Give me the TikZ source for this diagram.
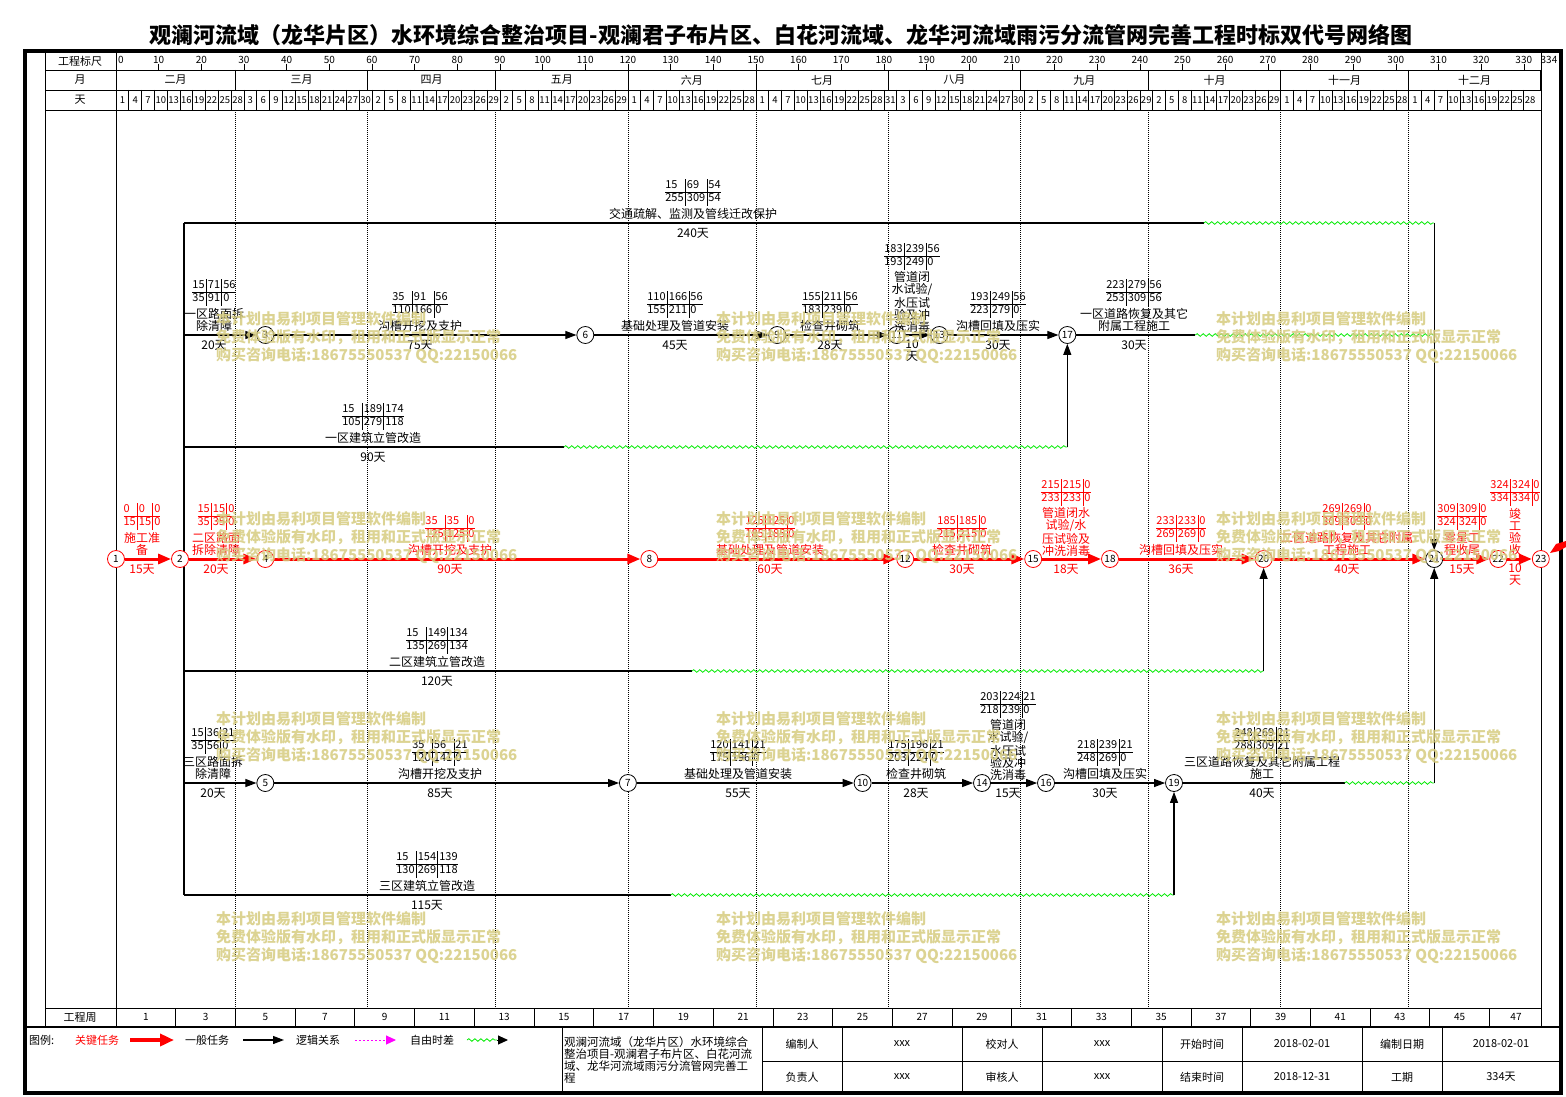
\documentclass[tikz,border=0pt]{standalone}
\usepackage{fontspec}
\setmainfont{Noto Sans CJK SC}
\usetikzlibrary{arrows.meta,decorations.pathmorphing}
\pgfdeclarelayer{bg}
\pgfsetlayers{bg,main}
\definecolor{wmk}{RGB}{214,204,128}
\definecolor{fgreen}{RGB}{0,235,0}
\definecolor{mag}{RGB}{255,0,255}
\setlength\tabcolsep{1.6pt}
\setlength\arrayrulewidth{0.6pt}
\newcommand\tpar[6]{\begin{tabular}{@{}l|l|l@{}}#1&#2&#3\\\hline #4&#5&#6\end{tabular}}
\tikzset{
 evt/.style={circle,draw=black,fill=white,minimum size=17pt,inner sep=0pt,line width=0.8pt,font=\fontsize{10}{10}\selectfont},
 cevt/.style={evt,draw=red},
 solidln/.style={line width=1.1pt},
 norm/.style={line width=1.1pt,-{Triangle[length=11pt,width=8pt]}},
 crit/.style={draw=red,line width=3pt,-{Triangle[length=13pt,width=10pt]}},
 flt/.style={draw=fgreen,line width=0.8pt,decorate,decoration={snake,amplitude=1.3pt,segment length=6pt}},
 lbl/.style={inner sep=0pt,align=center,font=\fontsize{12}{12}\selectfont},
 clbl/.style={lbl,text=red},
 tbl/.style={inner sep=0pt,font=\fontsize{11}{13}\selectfont},
 ctbl/.style={tbl,text=red},
 hdr/.style={inner sep=0pt,font=\fontsize{11}{12}\selectfont},
 dayl/.style={inner sep=0pt,font=\fontsize{9.5}{10}\selectfont},
 tkl/.style={inner sep=0pt,font=\fontsize{10}{10}\selectfont},
 wmark/.style={inner sep=0pt,align=left,text=wmk,text opacity=0.85,font=\bfseries\fontsize{15}{18}\selectfont},
}
\begin{document}
\begin{tikzpicture}[x=1pt,y=-1pt]
\useasboundingbox (0,0) rectangle (1566,1097);
\node[inner sep=0pt,font=\bfseries\fontsize{22}{24}\selectfont] (title) at (781,35) {观澜河流域（龙华片区）水环境综合整治项目-观澜君子布片区、白花河流域、龙华河流域雨污分流管网完善工程时标双代号网络图};

% ---------- frame and grid ----------
\begin{pgfonlayer}{bg}
\fill[white] (0,0) rectangle (1566,1097);
\draw[line width=0.8pt] (45,51) -- (45,1027);
\foreach \yy in {70,90,110,1008} \draw[line width=0.8pt] (45,\yy) -- (1541,\yy);
\draw[line width=0.8pt] (116,51) -- (116,1027);
\draw[line width=0.8pt] (1541,51) -- (1541,1027);
\foreach \a/\b/\m [count=\i] in {0/28/二月,28/59/三月,59/89/四月,89/120/五月,120/150/六月,150/181/七月,181/212/八月,212/242/九月,242/273/十月,273/303/十一月,303/334/十二月}{
  \pgfmathsetmacro\xa{116+4.266*\a}
  \pgfmathsetmacro\xb{116+4.266*\b}
  \node[hdr] (mon\i) at ({(\xa+\xb)/2},80) {\m};
  \draw[line width=0.8pt] (\xb,70) -- (\xb,90);
}
\foreach \b in {28,59,89,120,150,181,212,242,273,303}{
  \pgfmathsetmacro\xb{116+4.266*\b}
  \draw[line width=0.6pt,dash pattern=on 1pt off 1pt] (\xb,110) -- (\xb,1008);
}
\foreach \lab [count=\c from 0] in {1,4,7,10,13,16,19,22,25,28,3,6,9,12,15,18,21,24,27,30,2,5,8,11,14,17,20,23,26,29,2,5,8,11,14,17,20,23,26,29,1,4,7,10,13,16,19,22,25,28,1,4,7,10,13,16,19,22,25,28,31,3,6,9,12,15,18,21,24,27,30,2,5,8,11,14,17,20,23,26,29,2,5,8,11,14,17,20,23,26,29,1,4,7,10,13,16,19,22,25,28,1,4,7,10,13,16,19,22,25,28}{
  \pgfmathsetmacro\xl{116+12.798*\c}
  \draw[line width=0.6pt] (\xl,90) -- (\xl,110);
  \node[dayl] (dy\c) at (\xl+6.4,100) {\lab};
}
\foreach \d in {10,20,...,330}{
  \pgfmathsetmacro\xt{116+4.266*\d}
  \draw[line width=0.6pt] (\xt,64) -- (\xt,70);
  \node[tkl] (tk\d) at (\xt,59.5) {\d};
}
\node[tkl] (tk0) at (121,59.5) {0};
\node[tkl] (tk334) at (1549,59.5) {334};
\foreach \k in {0,...,23}{
  \pgfmathsetmacro\xw{116+59.72*\k}
  \pgfmathsetmacro\xc{min(\xw+29.86,1516)}
  \pgfmathtruncatemacro\wn{2*\k+1}
  \draw[line width=0.8pt] (\xw,1008) -- (\xw,1027);
  \node[tkl] (wk\k) at (\xc,1017) {\wn};
}
\draw[line width=2pt] (25,1027) -- (1561,1027);
\draw[line width=0.8pt] (562,1027) -- (562,1093);
\draw[line width=0.8pt] (762,1061) -- (1561,1061);
\foreach \xv in {762,842,962,1042,1162,1242,1362,1442} \draw[line width=0.8pt] (\xv,1027) -- (\xv,1093);
\draw[line width=4pt] (25,51) rectangle (1561,1093);
\end{pgfonlayer}

\node[hdr] (h1) at (80,61) {工程标尺};
\node[hdr] (h2) at (80,80) {月};
\node[hdr] (h3) at (80,100) {天};
\node[hdr] (h4) at (80,1017) {工程周};

% ---------- events ----------
\node[cevt] (n1) at (116,559) {1};
\node[cevt] (n2) at (180,559) {2};
\node[evt]  (n3) at (265.3,335) {3};
\node[cevt] (n4) at (265.3,559) {4};
\node[evt]  (n5) at (265.3,783) {5};
\node[evt]  (n6) at (585.3,335) {6};
\node[evt]  (n7) at (627.9,783) {7};
\node[cevt] (n8) at (649.3,559) {8};
\node[evt]  (n9) at (777.2,335) {9};
\node[evt]  (n10) at (862.6,783) {10};
\node[evt]  (n11) at (896.7,335) {11};
\node[cevt] (n12) at (905.2,559) {12};
\node[evt]  (n13) at (939.3,335) {13};
\node[evt]  (n14) at (982,783) {14};
\node[cevt] (n15) at (1033.2,559) {15};
\node[evt]  (n16) at (1046,783) {16};
\node[evt]  (n17) at (1067.3,335) {17};
\node[cevt] (n18) at (1110,559) {18};
\node[evt]  (n19) at (1174,783) {19};
\node[cevt] (n20) at (1263.6,559) {20};
\node[evt]  (n21) at (1434.2,559) {21};
\node[cevt] (n22) at (1498.2,559) {22};
\node[cevt] (n23) at (1540.8,559) {23};

% ---------- coordinates ----------
\coordinate (b223) at (184,223);
\coordinate (b335) at (184,335);
\coordinate (b447) at (184,447);
\coordinate (b671) at (184,671);
\coordinate (b783) at (184,783);
\coordinate (b895) at (184,895);
\coordinate (e223) at (1203.8,223);
\coordinate (w223) at (1434.2,223);
\coordinate (e335) at (1195.3,335);
\coordinate (w335) at (1434.2,335);
\coordinate (e447) at (563.9,447);
\coordinate (w447) at (1067.3,447);
\coordinate (e671) at (691.9,671);
\coordinate (w671) at (1263.6,671);
\coordinate (e783) at (1344.6,783);
\coordinate (w783) at (1434.2,783);
\coordinate (e895) at (670.6,895);
\coordinate (w895) at (1174,895);

\begin{pgfonlayer}{bg}
\draw[solidln] (b223) -- (b895);
\end{pgfonlayer}

% top row
\draw[solidln] (b223) -- (e223);
\draw[flt] (e223) -- (w223);
\draw[norm] (w223) -- (n21);
% upper row
\draw[norm] (b335) -- (n3);
\draw[norm] (n3) -- (n6);
\draw[norm] (n6) -- (n9);
\draw[norm] (n9) -- (n11);
\draw[norm] (n11) -- (n13);
\draw[norm] (n13) -- (n17);
\draw[solidln] (n17) -- (e335);
\draw[flt] (e335) -- (w335);
% row 447
\draw[solidln] (b447) -- (e447);
\draw[flt] (e447) -- (w447);
\draw[norm] (w447) -- (n17);
% critical row
\draw[crit] (n1) -- (n2);
\draw[crit] (n2) -- (n4);
\draw[crit] (n4) -- (n8);
\draw[crit] (n8) -- (n12);
\draw[crit] (n12) -- (n15);
\draw[crit] (n15) -- (n18);
\draw[crit] (n18) -- (n20);
\draw[crit] (n20) -- (n21);
\draw[crit] (n21) -- (n22);
\draw[crit] (n22) -- (n23);
% row 671
\draw[solidln] (b671) -- (e671);
\draw[flt] (e671) -- (w671);
\draw[norm] (w671) -- (n20);
% lower row
\draw[norm] (b783) -- (n5);
\draw[norm] (n5) -- (n7);
\draw[norm] (n7) -- (n10);
\draw[norm] (n10) -- (n14);
\draw[norm] (n14) -- (n16);
\draw[norm] (n16) -- (n19);
\draw[solidln] (n19) -- (e783);
\draw[flt] (e783) -- (w783);
\draw[norm] (w783) -- (n21);
% row 895
\draw[solidln] (b895) -- (e895);
\draw[flt] (e895) -- (w895);
\draw[norm] (w895) -- (n19);

\fill[red] (1550,553) -- (1556,544) -- (1566,541) -- (1566,547) -- (1559,551) -- cycle;

% ---------- activity labels ----------
\node[tbl] (tA0) at (693,192.5) {\tpar{15}{69}{54}{255}{309}{54}};
\node[lbl] (mA0) at (693,214) {交通疏解、监测及管线迁改保护};
\node[lbl] (dA0) at (693,233) {240天};

\node[tbl] (tA1) at (214,292.5) {\tpar{15}{71}{56}{35}{91}{0}};
\node[lbl] (mA1) at (214,320) {一区路面拆\\除清障};
\node[lbl] (dA1) at (214,345) {20天};
\node[tbl] (tA2) at (420,304.5) {\tpar{35}{91}{56}{110}{166}{0}};
\node[lbl] (mA2) at (420,326) {沟槽开挖及支护};
\node[lbl] (dA2) at (420,345) {75天};
\node[tbl] (tA3) at (675,304.5) {\tpar{110}{166}{56}{155}{211}{0}};
\node[lbl] (mA3) at (675,326) {基础处理及管道安装};
\node[lbl] (dA3) at (675,345) {45天};
\node[tbl] (tA4) at (830,304.5) {\tpar{155}{211}{56}{183}{239}{0}};
\node[lbl] (mA4) at (830,326) {检查井砌筑};
\node[lbl] (dA4) at (830,345) {28天};
\node[tbl] (tA5) at (912,256.5) {\tpar{183}{239}{56}{193}{249}{0}};
\node[lbl] (mA5) at (912,302) {管道闭\\水试验/\\水压试\\验及冲\\洗消毒};
\node[lbl] (dA5) at (912,351) {10\\天};
\node[tbl] (tA6) at (998,304.5) {\tpar{193}{249}{56}{223}{279}{0}};
\node[lbl] (mA6) at (998,326) {沟槽回填及压实};
\node[lbl] (dA6) at (998,345) {30天};
\node[tbl] (tA7) at (1134,292.5) {\tpar{223}{279}{56}{253}{309}{56}};
\node[lbl] (mA7) at (1134,320) {一区道路恢复及其它\\附属工程施工};
\node[lbl] (dA7) at (1134,345) {30天};

\node[tbl] (tB) at (373,416.5) {\tpar{15}{189}{174}{105}{279}{118}};
\node[lbl] (mB) at (373,438) {一区建筑立管改造};
\node[lbl] (dB) at (373,457) {90天};

\node[ctbl] (tC1) at (142,516.5) {\tpar{0}{0}{0}{15}{15}{0}};
\node[clbl] (mC1) at (142,544) {施工准\\备};
\node[clbl] (dC1) at (142,569) {15天};
\node[ctbl] (tC2) at (216,516.5) {\tpar{15}{15}{0}{35}{35}{0}};
\node[clbl] (mC2) at (216,544) {二区路面\\拆除清障};
\node[clbl] (dC2) at (216,569) {20天};
\node[ctbl] (tC3) at (450,528.5) {\tpar{35}{35}{0}{125}{125}{0}};
\node[clbl] (mC3) at (450,550) {沟槽开挖及支护};
\node[clbl] (dC3) at (450,569) {90天};
\node[ctbl] (tC4) at (770,528.5) {\tpar{125}{125}{0}{185}{185}{0}};
\node[clbl] (mC4) at (770,550) {基础处理及管道安装};
\node[clbl] (dC4) at (770,569) {60天};
\node[ctbl] (tC5) at (962,528.5) {\tpar{185}{185}{0}{215}{215}{0}};
\node[clbl] (mC5) at (962,550) {检查井砌筑};
\node[clbl] (dC5) at (962,569) {30天};
\node[ctbl] (tC6) at (1066,492.5) {\tpar{215}{215}{0}{233}{233}{0}};
\node[clbl] (mC6) at (1066,532) {管道闭水\\试验/水\\压试验及\\冲洗消毒};
\node[clbl] (dC6) at (1066,569) {18天};
\node[ctbl] (tC7) at (1181,528.5) {\tpar{233}{233}{0}{269}{269}{0}};
\node[clbl] (mC7) at (1181,550) {沟槽回填及压实};
\node[clbl] (dC7) at (1181,569) {36天};
\node[ctbl] (tC8) at (1347,516.5) {\tpar{269}{269}{0}{309}{309}{0}};
\node[clbl] (mC8) at (1347,544) {二区道路恢复及其它附属\\工程施工};
\node[clbl] (dC8) at (1347,569) {40天};
\node[ctbl] (tC9) at (1462,516.5) {\tpar{309}{309}{0}{324}{324}{0}};
\node[clbl] (mC9) at (1462,544) {零星工\\程收尾};
\node[clbl] (dC9) at (1462,569) {15天};
\node[ctbl] (tC10) at (1515,492.5) {\tpar{324}{324}{0}{334}{334}{0}};
\node[clbl] (mC10) at (1515,532) {竣\\工\\验\\收};
\node[clbl] (dC10) at (1515,575) {10\\天};

\node[tbl] (tD) at (437,640.5) {\tpar{15}{149}{134}{135}{269}{134}};
\node[lbl] (mD) at (437,662) {二区建筑立管改造};
\node[lbl] (dD) at (437,681) {120天};

\node[tbl] (tE1) at (213,740.5) {\tpar{15}{36}{21}{35}{56}{0}};
\node[lbl] (mE1) at (213,768) {三区路面拆\\除清障};
\node[lbl] (dE1) at (213,793) {20天};
\node[tbl] (tE2) at (440,752.5) {\tpar{35}{56}{21}{120}{141}{0}};
\node[lbl] (mE2) at (440,774) {沟槽开挖及支护};
\node[lbl] (dE2) at (440,793) {85天};
\node[tbl] (tE3) at (738,752.5) {\tpar{120}{141}{21}{175}{196}{0}};
\node[lbl] (mE3) at (738,774) {基础处理及管道安装};
\node[lbl] (dE3) at (738,793) {55天};
\node[tbl] (tE4) at (916,752.5) {\tpar{175}{196}{21}{203}{224}{0}};
\node[lbl] (mE4) at (916,774) {检查井砌筑};
\node[lbl] (dE4) at (916,793) {28天};
\node[tbl] (tE5) at (1008,704.5) {\tpar{203}{224}{21}{218}{239}{0}};
\node[lbl] (mE5) at (1008,750) {管道闭\\水试验/\\水压试\\验及冲\\洗消毒};
\node[lbl] (dE5) at (1008,793) {15天};
\node[tbl] (tE6) at (1105,752.5) {\tpar{218}{239}{21}{248}{269}{0}};
\node[lbl] (mE6) at (1105,774) {沟槽回填及压实};
\node[lbl] (dE6) at (1105,793) {30天};
\node[tbl] (tE7) at (1262,740.5) {\tpar{248}{269}{21}{288}{309}{21}};
\node[lbl] (mE7) at (1262,768) {三区道路恢复及其它附属工程\\施工};
\node[lbl] (dE7) at (1262,793) {40天};

\node[tbl] (tF) at (427,864.5) {\tpar{15}{154}{139}{130}{269}{118}};
\node[lbl] (mF) at (427,886) {三区建筑立管改造};
\node[lbl] (dF) at (427,905) {115天};

% ---------- legend ----------
\node[hdr,anchor=west] (lg0) at (29,1040) {图例:};
\node[hdr,text=red] (lg1) at (97,1040) {关键任务};
\coordinate (la1) at (130,1040); \coordinate (lb1) at (174,1040);
\draw[draw=red,line width=4pt,-{Triangle[length=14pt,width=12pt]}] (la1) -- (lb1);
\node[hdr] (lg2) at (207,1040) {一般任务};
\coordinate (la2) at (243,1040); \coordinate (lb2) at (284,1040);
\draw[norm] (la2) -- (lb2);
\node[hdr] (lg3) at (318,1040) {逻辑关系};
\coordinate (la3) at (355,1040); \coordinate (lb3) at (396,1040);
\draw[draw=mag,line width=1pt,dash pattern=on 2pt off 2pt,-{Triangle[length=10pt,width=9pt]}] (la3) -- (lb3);
\node[hdr] (lg4) at (432,1040) {自由时差};
\coordinate (la4) at (467,1040); \coordinate (lb4) at (497,1040); \coordinate (lc4) at (508,1040);
\draw[flt] (la4) -- (lb4);
\draw[line width=1pt,-{Triangle[length=10pt,width=9pt]}] (lb4) -- (lc4);

\node[inner sep=0pt,anchor=north west,align=left,font=\fontsize{11.5}{12}\selectfont] (pname) at (564,1036) {观澜河流域（龙华片区）水环境综合\\整治项目-观澜君子布片区、白花河流\\域、龙华河流域雨污分流管网完善工\\程};
\node[hdr] (c11) at (802,1044) {编制人};
\node[hdr] (c12) at (902,1044) {xxx};
\node[hdr] (c13) at (1002,1044) {校对人};
\node[hdr] (c14) at (1102,1044) {xxx};
\node[hdr] (c15) at (1202,1044) {开始时间};
\node[hdr] (c16) at (1302,1044) {2018-02-01};
\node[hdr] (c17) at (1402,1044) {编制日期};
\node[hdr] (c18) at (1501,1044) {2018-02-01};
\node[hdr] (c21) at (802,1077) {负责人};
\node[hdr] (c22) at (902,1077) {xxx};
\node[hdr] (c23) at (1002,1077) {审核人};
\node[hdr] (c24) at (1102,1077) {xxx};
\node[hdr] (c25) at (1202,1077) {结束时间};
\node[hdr] (c26) at (1302,1077) {2018-12-31};
\node[hdr] (c27) at (1402,1077) {工期};
\node[hdr] (c28) at (1501,1077) {334天};

% ---------- watermarks ----------
\foreach \wx in {216,716,1216}{
  \foreach \wy in {319,519,719,919}{
    \node[wmark,anchor=north west] (wm\wx\wy) at (\wx,\wy-7.5) {本计划由易利项目管理软件编制\\免费体验版有水印，租用和正式版显示正常\\购买咨询电话:18675550537 QQ:22150066};
  }
}
\end{tikzpicture}
\end{document}
